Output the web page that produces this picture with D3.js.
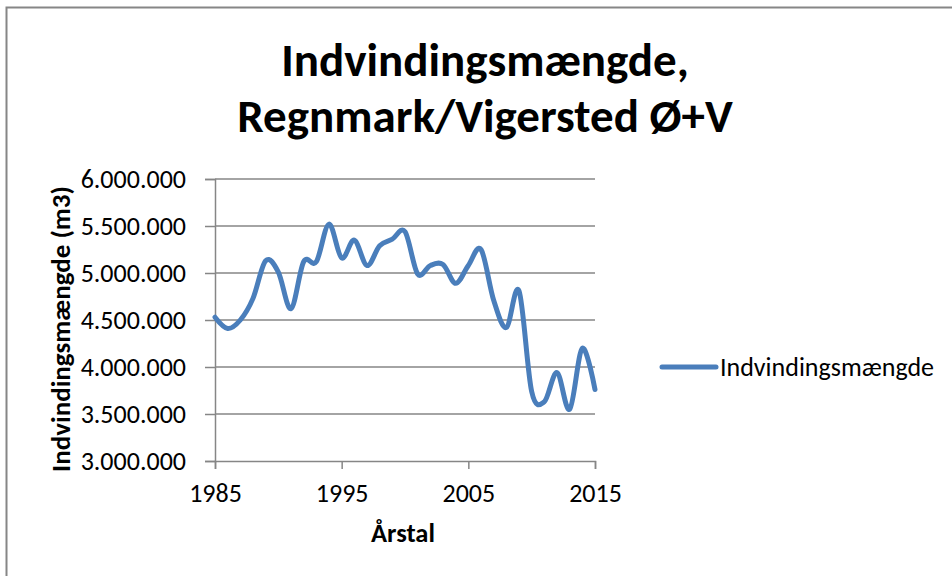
<!DOCTYPE html>
<html>
<head>
<meta charset="utf-8">
<script src="https://d3js.org/d3.v7.min.js"></script>
<style>
  body { margin: 0; background: #fff; }
  svg { display: block; font-family: Carlito, Calibri, Lato, sans-serif; }
</style>
</head>
<body>
<svg id="chart" width="952" height="576"></svg>
<script>
// yearly abstraction
var years = d3.range(1985, 2016);
var amounts = [
  4530000, 4410000, 4500000, 4730000, 5130000, 5010000, 4620000, 5120000,
  5120000, 5520000, 5160000, 5350000, 5080000, 5290000, 5360000, 5440000,
  4990000, 5080000, 5090000, 4890000, 5080000, 5250000, 4710000, 4420000,
  4810000, 3740000, 3630000, 3940000, 3550000, 4200000, 3760000
];
var x_ticks = [1985, 1995, 2005, 2015];
var y_ticks = [3000000, 3500000, 4000000, 4500000, 5000000, 5500000, 6000000];
var title_lines = ["Indvindingsmængde,", "Regnmark/Vigersted Ø+V"];
var series_name = "Indvindingsmængde";

var svg = d3.select("#chart");
var grey = "#868686",
    blue = "#4a7ebb";

// chart border (right/bottom edges run off the picture)
svg.append("rect")
  .attr("x", 6.5).attr("y", 7.5)
  .attr("width", 960).attr("height", 600)
  .attr("fill", "none").attr("stroke", grey).attr("stroke-width", 2);

var x = d3.scaleLinear().domain([1985, 2015]).range([215, 595]);
var y = d3.scaleLinear().domain([3000000, 6000000]).range([461, 179]);

var fmt = function(v) { return d3.format(",")(v).replace(/,/g, "."); };

// gridlines
svg.append("g").selectAll("line")
  .data(y_ticks.slice(1))
  .enter().append("line")
    .attr("x1", x(1985)).attr("x2", x(2015))
    .attr("y1", function(d) { return y(d); })
    .attr("y2", function(d) { return y(d); })
    .attr("stroke", grey).attr("stroke-width", 1.5);

var yAxis = svg.append("g")
  .attr("transform", "translate(" + x(1985) + ",0)")
  .call(d3.axisLeft(y).tickValues(y_ticks).tickFormat(fmt).tickSize(10).tickPadding(19));

var xAxis = svg.append("g")
  .attr("transform", "translate(0," + y(3000000) + ")")
  .call(d3.axisBottom(x).tickValues(x_ticks).tickFormat(d3.format("d")).tickSize(8).tickPadding(15));

[yAxis, xAxis].forEach(function(ax) {
  ax.selectAll("path.domain").attr("stroke", grey).attr("stroke-width", 1.5);
  ax.selectAll(".tick line").attr("stroke", grey).attr("stroke-width", 1.5);
  ax.selectAll("text")
    .attr("fill", "#000")
    .style("font-family", "Carlito, Calibri, Lato, sans-serif")
    .style("font-size", "26px");
});

// the smoothed line
var line = d3.line()
  .x(function(d, i) { return x(years[i]); })
  .y(function(d) { return y(d); })
  .curve(d3.curveCatmullRom.alpha(0));

svg.append("path")
  .datum(amounts)
  .attr("d", line)
  .attr("fill", "none")
  .attr("stroke", blue)
  .attr("stroke-width", 5)
  .attr("stroke-linejoin", "round")
  .attr("stroke-linecap", "round");

// title
svg.append("text")
  .attr("text-anchor", "middle")
  .attr("font-weight", "bold")
  .attr("font-size", 47)
  .selectAll("tspan")
  .data(title_lines)
  .enter().append("tspan")
    .attr("x", 485)
    .attr("y", function(d, i) { return 76 + i * 56; })
    .text(function(d) { return d; });

// axis titles
svg.append("text")
  .attr("x", 403).attr("y", 542)
  .attr("text-anchor", "middle")
  .attr("font-weight", "bold").attr("font-size", 26.5)
  .text("Årstal");

svg.append("text")
  .attr("transform", "translate(70,329) rotate(-90)")
  .attr("text-anchor", "middle")
  .attr("font-weight", "bold").attr("font-size", 27)
  .text("Indvindingsmængde (m3)");

// legend
svg.append("line")
  .attr("x1", 662).attr("x2", 716)
  .attr("y1", 367).attr("y2", 367)
  .attr("stroke", blue).attr("stroke-width", 5)
  .attr("stroke-linecap", "round");

svg.append("text")
  .attr("x", 720).attr("y", 376)
  .attr("font-size", 26)
  .text(series_name);
</script>
</body>
</html>
